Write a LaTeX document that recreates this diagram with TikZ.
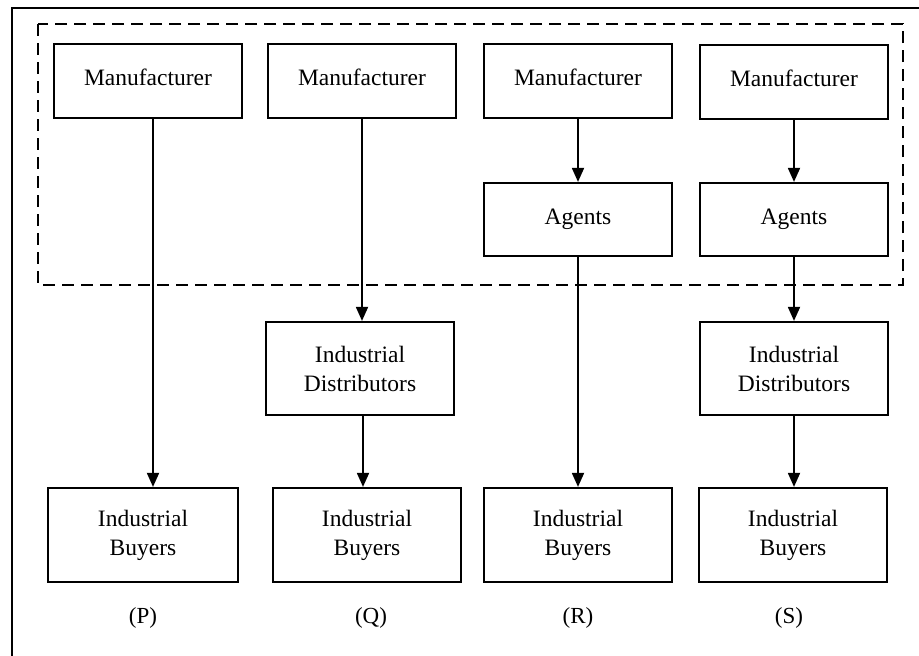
\documentclass[tikz,border=0pt]{standalone}
\usepackage{fontspec}
\setmainfont{Liberation Serif}
\usetikzlibrary{arrows.meta}

\newcommand{\lifted}[1]{\raisebox{4pt}[\height][\depth]{#1}}

\tikzset{
  box/.style={draw, line width=2.2pt, minimum width=188pt, minimum height=74pt,
    align=center, inner sep=0pt, font=\fontsize{23.5}{29}\selectfont},
  tallbox/.style={box, minimum height=94pt},
  arr/.style={line width=1.8pt, -{Triangle[length=14pt,width=12pt]}},
  grpline/.style={line width=1.8pt, dash pattern=on 12pt off 7pt},
  frameline/.style={line width=2pt},
  tag/.style={font=\fontsize{23}{26}\selectfont, inner sep=0pt}
}

\begin{document}
\begin{tikzpicture}[x=1pt,y=-1pt]
  \useasboundingbox (0,0) rectangle (919,656);

  % outer frame (top and left edges)
  \draw[frameline] (12,656) -- (12,8) -- (919,8);

  % grouping box around manufacturers and agents
  \draw[grpline] (38,24) rectangle (903,285);

  % top row
  \node[box] (m1) at (148,81) {\lifted{Manufacturer}};
  \node[box] (m2) at (362,81) {\lifted{Manufacturer}};
  \node[box] (m3) at (578,81) {\lifted{Manufacturer}};
  \node[box] (m4) at (794,82) {\lifted{Manufacturer}};

  % agents
  \node[box, minimum height=73pt] (a3) at (578,219.5) {Agents};
  \node[box, minimum height=73pt] (a4) at (794,219.5) {Agents};

  % distributors
  \node[box, minimum height=93pt] (d2) at (360,368.5) {Industrial\\Distributors};
  \node[box, minimum height=93pt] (d4) at (794,368.5) {Industrial\\Distributors};

  % buyers
  \node[tallbox, minimum width=190pt] (b1) at (143,535) {Industrial\\Buyers};
  \node[tallbox] (b2) at (367,535) {Industrial\\Buyers};
  \node[tallbox] (b3) at (578,535) {Industrial\\Buyers};
  \node[tallbox] (b4) at (793,535) {Industrial\\Buyers};

  % channel labels
  \node[tag] (lp) at (143,618) {(P)};
  \node[tag] (lq) at (371,618) {(Q)};
  \node[tag] (lr) at (578,618) {(R)};
  \node[tag] (ls) at (789,618) {(S)};

  % channel P
  \draw[arr] ([xshift=5pt]m1.south) -- ([xshift=5pt]m1.south |- b1.north);
  % channel Q
  \draw[arr] (m2.south) -- (m2.south |- d2.north);
  \draw[arr] ([xshift=3pt]d2.south) -- ([xshift=3pt]d2.south |- b2.north);
  % channel R
  \draw[arr] (m3.south) -- (a3.north);
  \draw[arr] (a3.south) -- (a3.south |- b3.north);
  % channel S
  \draw[arr] (m4.south) -- (a4.north);
  \draw[arr] (a4.south) -- (d4.north);
  \draw[arr] (d4.south) -- (d4.south |- b4.north);
\end{tikzpicture}
\end{document}
